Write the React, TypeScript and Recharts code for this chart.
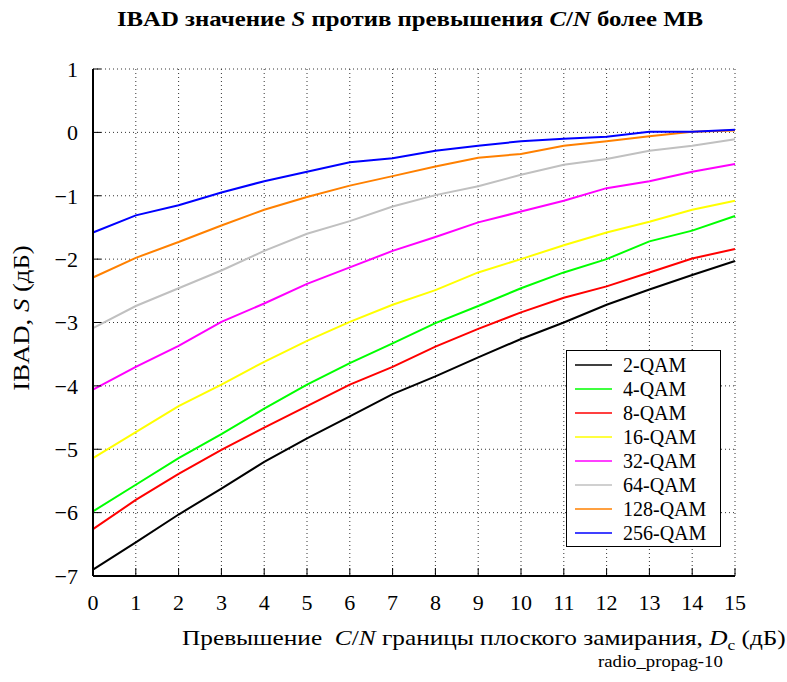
import { CartesianGrid, Legend, Line, LineChart, XAxis, YAxis } from 'recharts';

const dc = [0, 1, 2, 3, 4, 5, 6, 7, 8, 9, 10, 11, 12, 13, 14, 15];
const yTicks = [1, 0, -1, -2, -3, -4, -5, -6, -7];

const qam2 = [-6.9, -6.47, -6.03, -5.62, -5.2, -4.83, -4.48, -4.13, -3.85, -3.55, -3.26, -3.0, -2.72, -2.48, -2.25, -2.03];
const qam4 = [-5.98, -5.56, -5.14, -4.76, -4.36, -3.98, -3.64, -3.33, -3.01, -2.74, -2.46, -2.21, -2.0, -1.72, -1.55, -1.32];
const qam8 = [-6.26, -5.8, -5.39, -5.01, -4.66, -4.32, -3.98, -3.7, -3.38, -3.1, -2.84, -2.61, -2.43, -2.21, -1.99, -1.84];
const qam16 = [-5.14, -4.73, -4.32, -3.98, -3.62, -3.29, -2.99, -2.72, -2.49, -2.21, -2.0, -1.78, -1.58, -1.41, -1.22, -1.08];
const qam32 = [-4.06, -3.7, -3.37, -2.99, -2.7, -2.39, -2.13, -1.87, -1.65, -1.42, -1.25, -1.08, -0.88, -0.77, -0.62, -0.5];
const qam64 = [-3.09, -2.74, -2.46, -2.18, -1.87, -1.6, -1.4, -1.17, -0.99, -0.85, -0.67, -0.51, -0.42, -0.29, -0.21, -0.11];
const qam128 = [-2.29, -1.98, -1.73, -1.47, -1.22, -1.02, -0.84, -0.69, -0.54, -0.4, -0.34, -0.21, -0.14, -0.06, 0.01, 0.03];
const qam256 = [-1.58, -1.31, -1.15, -0.95, -0.77, -0.62, -0.47, -0.41, -0.29, -0.21, -0.14, -0.1, -0.07, 0.01, 0.01, 0.04];

const series = [
  { key: 'q2', name: '2-QAM', color: '#000000', values: qam2 },
  { key: 'q4', name: '4-QAM', color: '#00ff00', values: qam4 },
  { key: 'q8', name: '8-QAM', color: '#ff0000', values: qam8 },
  { key: 'q16', name: '16-QAM', color: '#ffff00', values: qam16 },
  { key: 'q32', name: '32-QAM', color: '#ff00ff', values: qam32 },
  { key: 'q64', name: '64-QAM', color: '#c0c0c0', values: qam64 },
  { key: 'q128', name: '128-QAM', color: '#ff8000', values: qam128 },
  { key: 'q256', name: '256-QAM', color: '#0000ff', values: qam256 },
];

const data = dc.map((x, i) => {
  const row: Record<string, number> = { x };
  series.forEach((s) => {
    row[s.key] = s.values[i];
  });
  return row;
});

const font = '"Liberation Serif", "Times New Roman", serif';

const fmtY = (v: number) => (v < 0 ? `\u2212${-v}` : `${v}`);

const renderLegend = () => (
  <div
    style={{
      border: '1.5px solid #000',
      background: '#fff',
      padding: '2px 0 2px 8px',
      fontFamily: font,
      fontSize: 20,
      boxSizing: 'border-box',
      height: 197,
    }}
  >
    {series.map((s) => (
      <div key={s.key} style={{ display: 'flex', alignItems: 'center', height: 24, lineHeight: '24px' }}>
        <svg width={37} height={4} style={{ marginRight: 11 }}>
          <line x1={0} x2={37} y1={2} y2={2} stroke={s.color} strokeWidth={1.5} />
        </svg>
        <span>{s.name}</span>
      </div>
    ))}
  </div>
);

export default function App() {
  return (
    <div style={{ position: 'absolute', left: 0, top: 0, width: 787, height: 682, background: '#fff', fontFamily: font }}>
      <div
        style={{
          position: 'absolute',
          left: 89,
          width: 642,
          top: 7,
          textAlign: 'center',
          fontSize: 21,
          fontWeight: 'bold',
          whiteSpace: 'nowrap',
          transform: 'scaleX(1.18)',
          transformOrigin: 'center',
        }}
      >
        IBAD значение <i>S</i> против превышения <i>C</i>/<i>N</i> более МВ
      </div>

      <LineChart width={787} height={682} data={data} margin={{ top: 69, right: 52, bottom: 76, left: 0 }}>
        <CartesianGrid xAxisId="b" yAxisId="l" stroke="#333" strokeDasharray="1 3" />
        <XAxis
          xAxisId="b"
          dataKey="x"
          type="number"
          domain={[0, 15]}
          ticks={dc}
          height={30}
          tickSize={-8}
          tickMargin={26}
          fontSize={22}
          fontFamily={font}
          stroke="#000"
          axisLine={{ stroke: '#000', strokeWidth: 2 }}
          tickLine={{ stroke: '#000' }}
          tick={{ fill: '#000', fontSize: 22, fontFamily: font }}
          interval={0}
        />
        <XAxis
          xAxisId="t"
          orientation="top"
          dataKey="x"
          type="number"
          domain={[0, 15]}
          ticks={dc}
          height={0}
          tickSize={-8}
          axisLine={{ stroke: '#000', strokeWidth: 2 }}
          tickLine={{ stroke: '#000' }}
          tick={false}
        />
        <YAxis
          yAxisId="l"
          type="number"
          domain={[-7, 1]}
          ticks={yTicks}
          width={93}
          tickSize={-8}
          tickMargin={23}
          tickFormatter={fmtY}
          fontSize={22}
          fontFamily={font}
          stroke="#000"
          axisLine={{ stroke: '#000', strokeWidth: 2 }}
          tickLine={{ stroke: '#000' }}
          tick={{ fill: '#000', fontSize: 22, fontFamily: font }}
          interval={0}
        />
        <YAxis
          yAxisId="r"
          orientation="right"
          type="number"
          domain={[-7, 1]}
          ticks={yTicks}
          width={0}
          tickSize={-8}
          axisLine={{ stroke: '#000', strokeWidth: 2 }}
          tickLine={{ stroke: '#000' }}
          tick={false}
        />
        {series.map((s) => (
          <Line
            key={s.key}
            xAxisId="b"
            yAxisId="l"
            dataKey={s.key}
            name={s.name}
            stroke={s.color}
            strokeWidth={2}
            dot={false}
            type="linear"
            isAnimationActive={false}
          />
        ))}
        <Legend
          layout="vertical"
          align="center"
          verticalAlign="middle"
          content={renderLegend}
          wrapperStyle={{ left: 566, top: 350, width: 155, height: 197 }}
        />
      </LineChart>

      <div
        style={{
          position: 'absolute',
          left: 22,
          top: 318,
          transform: 'translate(-50%, -50%) rotate(-90deg) scaleX(1.16)',
          fontSize: 23,
          whiteSpace: 'nowrap',
        }}
      >
        IBAD, <i>S</i> (дБ)
      </div>

      <div
        style={{
          position: 'absolute',
          left: 182,
          top: 625,
          fontSize: 22,
          whiteSpace: 'nowrap',
          transform: 'scaleX(1.15)',
          transformOrigin: 'left center',
        }}
      >
        Превышение&nbsp; <i>C</i>/<i>N</i> границы плоского замирания, <i>D</i>
        <sub style={{ fontSize: 15 }}>c</sub> (дБ)
      </div>

      <div
        style={{
          position: 'absolute',
          left: 598,
          top: 653,
          fontSize: 16,
          whiteSpace: 'nowrap',
          transform: 'scaleX(1.17)',
          transformOrigin: 'left center',
        }}
      >
        radio_propag-10
      </div>
    </div>
  );
}
